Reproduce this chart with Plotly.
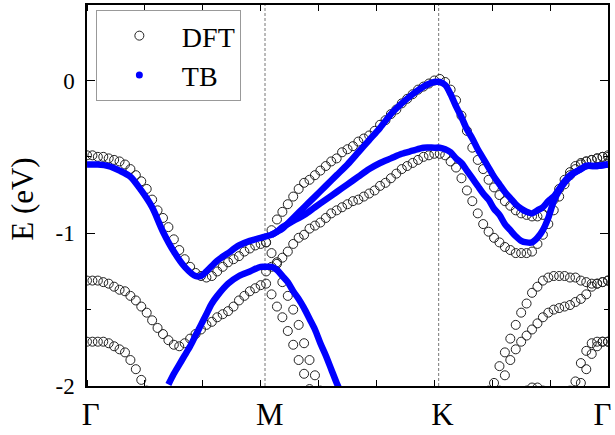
import plotly.graph_objects as go

# k-path sample index (Γ=0 ... Γ=96); high-symmetry points
HS_LINE_POS = [32.8, 64.8]          # dashed lines at M and K
HS_LABEL_POS = [0.7, 33.7, 65.5, 95.0]
HS_LABELS = ["Γ", "M", "K", "Γ"]

# ---- DFT bands (open circles): start index + energies (eV) ----
DFT_A_START = 0
DFT_A = [-0.49, -0.49, -0.50, -0.50, -0.51, -0.52, -0.53, -0.55, -0.58, -0.62, -0.66, -0.71,
         -0.78, -0.85, -0.90, -0.96, -1.04, -1.11, -1.17, -1.22, -1.26, -1.28, -1.29, -1.28,
         -1.25, -1.22, -1.19, -1.17, -1.15, -1.12, -1.10, -1.08, -1.07, -1.06]
DFT_B_START = 0
DFT_B = [-1.31, -1.31, -1.31, -1.32, -1.33, -1.35, -1.37, -1.38, -1.41, -1.44, -1.48, -1.52,
         -1.57, -1.62, -1.66, -1.70, -1.73, -1.74, -1.72, -1.69, -1.66, -1.63, -1.60, -1.58,
         -1.55, -1.53, -1.51, -1.48, -1.44, -1.41, -1.38, -1.36, -1.34, -1.33]
DFT_C_START = 0
DFT_C = [-1.71, -1.71, -1.71, -1.71, -1.72, -1.74, -1.76, -1.78, -1.83, -1.89, -1.96, -2.03]
DFT_D_START = 33
DFT_D = [-1.06, -0.98, -0.91, -0.86, -0.81, -0.76, -0.71, -0.67, -0.65, -0.62, -0.59, -0.56,
         -0.53, -0.51, -0.47, -0.45, -0.43, -0.40, -0.38, -0.36, -0.33, -0.29, -0.26, -0.22,
         -0.19, -0.15, -0.12, -0.09, -0.06, -0.04, -0.02, 0.00, 0.01,
         -0.01, -0.06, -0.13, -0.23, -0.33, -0.44, -0.52, -0.58, -0.65, -0.70, -0.75, -0.79,
         -0.82, -0.85, -0.87, -0.88, -0.89, -0.89, -0.88, -0.83, -0.78, -0.71, -0.65, -0.60,
         -0.56, -0.54, -0.53, -0.52, -0.51, -0.50, -0.49]
DFT_E_START = 33
DFT_E = [-1.25, -1.22, -1.19, -1.16,
         -1.12, -1.07, -1.03, -1.01, -0.97, -0.95, -0.93, -0.90, -0.87, -0.85, -0.83, -0.81,
         -0.79, -0.78, -0.76, -0.74, -0.72, -0.69, -0.67, -0.64, -0.61, -0.58, -0.56, -0.54,
         -0.52, -0.50, -0.49, -0.48, -0.48,
         -0.49, -0.53, -0.57, -0.64, -0.72, -0.79, -0.87, -0.94, -0.99, -1.03, -1.06, -1.09,
         -1.11, -1.13, -1.13, -1.13, -1.12, -1.07, -1.01, -0.94, -0.85, -0.76, -0.68, -0.62,
         -0.58, -0.55, -0.53, -0.52, -0.51, -0.50, -0.50]
DFT_F_START = 34
DFT_F = [-1.40, -1.48, -1.55, -1.64, -1.73, -1.83, -1.92, -2.02]
DFT_G_START = 34
DFT_G = [-1.13, -1.20, -1.32, -1.41, -1.50, -1.60, -1.72, -1.83, -1.93, -2.03]
DFT_H_START = 74
DFT_H = [-2.03, -1.98, -1.87, -1.78, -1.69, -1.60, -1.52, -1.46, -1.39, -1.35, -1.31, -1.29,
         -1.28, -1.28, -1.28, -1.29, -1.29, -1.31, -1.32, -1.33, -1.33, -1.32, -1.31]
DFT_I_START = 76
DFT_I = [-2.03, -1.93, -1.83, -1.76, -1.71, -1.67, -1.63, -1.59, -1.55, -1.52, -1.50, -1.49,
         -1.48, -1.47, -1.45, -1.43, -1.40, -1.35, -1.33, -1.32, -1.31]
DFT_J_START = 89
DFT_J = [-2.03, -1.97, -1.85, -1.77, -1.72, -1.71, -1.71, -1.71]
DFT_L_START = 91
DFT_L = [-1.98, -1.89, -1.79, -1.74, -1.71, -1.71]
DFT_N_START = 81
DFT_N = [-2.03, -2.01, -2.01, -2.03]

DFT_BANDS = [(DFT_A_START, DFT_A), (DFT_B_START, DFT_B), (DFT_C_START, DFT_C),
             (DFT_D_START, DFT_D), (DFT_E_START, DFT_E), (DFT_F_START, DFT_F),
             (DFT_G_START, DFT_G), (DFT_H_START, DFT_H), (DFT_I_START, DFT_I),
             (DFT_J_START, DFT_J), (DFT_L_START, DFT_L), (DFT_N_START, DFT_N)]

# ---- TB bands (blue lines) ----
TB1_K = [0, 2, 4, 6, 8, 10, 12, 14, 16, 18, 20, 21, 22, 24, 26, 28, 30, 32, 33, 34, 35, 36,
         38, 40, 42, 44, 46, 48, 50, 52, 54, 56, 58, 60, 62, 64, 65,
         66, 67, 68, 69, 70, 71, 72, 73, 74, 75, 76, 77, 78, 79, 80, 81, 82, 83, 84, 85, 86,
         87, 88, 89, 90, 91, 92, 94, 96]
TB1_E = [-0.55, -0.55, -0.56, -0.59, -0.63, -0.72, -0.83, -0.99, -1.12, -1.22, -1.28, -1.28,
         -1.25, -1.18, -1.13, -1.08, -1.05, -1.03, -1.02, -1.01, -0.99, -0.97,
         -0.90, -0.83, -0.76, -0.69, -0.62, -0.55, -0.47, -0.39, -0.31, -0.22, -0.15, -0.09,
         -0.04, -0.01, -0.01,
         -0.03, -0.09, -0.17, -0.24, -0.32, -0.38, -0.45, -0.51, -0.57, -0.63, -0.68, -0.73,
         -0.77, -0.81, -0.84, -0.86, -0.87, -0.85, -0.83, -0.79, -0.76, -0.71, -0.66, -0.62,
         -0.60, -0.58, -0.56, -0.56, -0.55]
TB2_K = [34, 35, 36, 38, 40, 42, 44, 46, 48, 50, 52, 54, 56, 58, 60, 62, 64, 65,
         66, 67, 68, 69, 70, 71, 72, 73, 74, 75, 76, 77, 78, 79, 80, 81, 82, 83, 84, 85, 86,
         87, 88, 89, 90, 91, 92, 94, 96]
TB2_E = [-1.01, -0.99, -0.96, -0.92, -0.88, -0.83, -0.78, -0.73, -0.68, -0.63, -0.58, -0.54,
         -0.51, -0.48, -0.46, -0.44, -0.44, -0.44,
         -0.45, -0.47, -0.51, -0.54, -0.59, -0.64, -0.69, -0.74, -0.78, -0.84, -0.88, -0.94,
         -0.98, -1.02, -1.05, -1.06, -1.06, -1.03, -0.98, -0.90, -0.79, -0.72, -0.67, -0.63,
         -0.60, -0.58, -0.56, -0.56, -0.55]
TB3_K = [15, 16, 17, 18, 19, 20, 21, 22, 23, 24, 26, 28, 30, 32, 33, 34, 35, 36, 37, 38, 39,
         40, 41, 42, 43, 44, 45, 46, 47]
TB3_E = [-1.99, -1.92, -1.86, -1.80, -1.74, -1.67, -1.60, -1.53, -1.46, -1.41, -1.33, -1.28,
         -1.25, -1.22, -1.22, -1.22, -1.24, -1.28, -1.32, -1.38, -1.43, -1.49, -1.56, -1.63,
         -1.72, -1.80, -1.89, -1.98, -2.06]
TB_BANDS = [(TB1_K, TB1_E), (TB2_K, TB2_E), (TB3_K, TB3_E)]

SERIF = "Liberation Serif"
BLUE = "#0000ff"

fig = go.Figure()

for n, (start, vals) in enumerate(DFT_BANDS):
    fig.add_trace(go.Scatter(
        x=list(range(start, start + len(vals))), y=vals, mode="markers",
        marker=dict(symbol="circle-open", size=9, color="#222222", line=dict(width=1)),
        name="DFT", showlegend=(n == 0), legendgroup="dft"))

for kk, ee in TB_BANDS:
    fig.add_trace(go.Scatter(
        x=kk, y=ee, mode="lines", line=dict(color=BLUE, width=6.5, shape="spline", smoothing=0.8),
        showlegend=False, legendgroup="tb", hoverinfo="skip"))

# legend entry for TB (dot symbol)
fig.add_trace(go.Scatter(x=[None], y=[None], mode="markers",
                         marker=dict(symbol="circle", size=7, color=BLUE),
                         name="TB", legendgroup="tb"))

for xv in HS_LINE_POS:
    fig.add_shape(type="line", xref="x", yref="paper", x0=xv, x1=xv, y0=0, y1=1,
                  line=dict(color="#777777", width=1, dash="3px,2px"), layer="below")

fig.update_xaxes(
    range=[0, 96], tickmode="array", tickvals=HS_LABEL_POS, ticktext=HS_LABELS, ticks="",
    tickfont=dict(family=SERIF, size=31, color="black"), ticklabelstandoff=0,
    showline=True, linecolor="black", linewidth=1.5, mirror="allticks",
    showgrid=False, zeroline=False,
    minor=dict(tickmode="linear", tick0=0, dtick=96 / 9, ticks="inside", ticklen=6,
               tickcolor="black", tickwidth=1.2, showgrid=False))
fig.update_yaxes(
    range=[-2, 0.494], tickmode="array", tickvals=[-2, -1, 0], ticktext=["-2", "-1", "0"],
    ticks="inside", ticklen=8, tickwidth=1.2, tickcolor="black",
    tickfont=dict(family=SERIF, size=23, color="black"), ticklabelstandoff=6,
    showline=True, linecolor="black", linewidth=1.5, mirror="allticks",
    showgrid=False, zeroline=False,
    minor=dict(tickmode="linear", tick0=0, dtick=0.5, ticks="inside", ticklen=4,
               tickcolor="black", tickwidth=1.2, showgrid=False))

fig.add_annotation(text="E (eV)", xref="paper", yref="paper", x=(22 - 87) / 525, y=0.49,
                   xanchor="center", yanchor="middle",
                   textangle=-90, showarrow=False,
                   font=dict(family=SERIF, size=31, color="black"))

fig.update_layout(
    width=615, height=435, margin=dict(l=87, r=3, t=4, b=42),
    paper_bgcolor="white", plot_bgcolor="white",
    legend=dict(x=0.017, y=0.987, xanchor="left", yanchor="top",
                bgcolor="white", bordercolor="#999999", borderwidth=1,
                font=dict(family=SERIF, size=28, color="black"),
                itemwidth=75, tracegroupgap=0),
    showlegend=True)

fig.write_html("out.html")
